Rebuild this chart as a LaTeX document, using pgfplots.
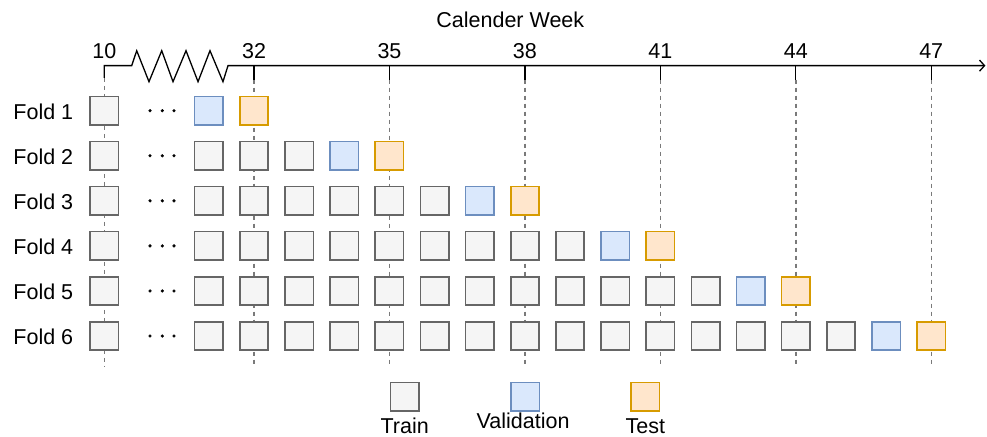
\documentclass[border=0pt]{standalone}
\usepackage{pgfplots}
\pgfplotsset{compat=1.18}
\usepackage{pgfplotstable}
\usepackage{fontspec}
\setmainfont{Liberation Sans}
\usetikzlibrary{arrows.meta}
\definecolor{trainfill}{HTML}{F5F5F5}
\definecolor{trainline}{HTML}{666666}
\definecolor{valfill}{HTML}{DAE8FC}
\definecolor{valline}{HTML}{6C8EBF}
\definecolor{testfill}{HTML}{FFE6CC}
\definecolor{testline}{HTML}{D79B00}
\definecolor{dashgray}{HTML}{7A7A7A}
\newcommand{\lbl}{\fontsize{21.5bp}{25bp}\selectfont}

\pgfplotstableread{
x y
28.684 1
28.684 2
31 2
32 2
33 2
28.684 3
31 3
32 3
33 3
34 3
35 3
36 3
28.684 4
31 4
32 4
33 4
34 4
35 4
36 4
37 4
38 4
39 4
28.684 5
31 5
32 5
33 5
34 5
35 5
36 5
37 5
38 5
39 5
40 5
41 5
42 5
28.684 6
31 6
32 6
33 6
34 6
35 6
36 6
37 6
38 6
39 6
40 6
41 6
42 6
43 6
44 6
45 6
35.338 7.347
}\train

\pgfplotstableread{
x y
31 1
34 2
37 3
40 4
43 5
46 6
38.01 7.347
}\val

\pgfplotstableread{
x y
32 1
35 2
38 3
41 4
44 5
47 6
40.667 7.347
}\test

\pgfplotstableread{
x y
29.697 1
29.969 1
30.228 1
29.697 2
29.969 2
30.228 2
29.697 3
29.969 3
30.228 3
29.697 4
29.969 4
30.228 4
29.697 5
29.969 5
30.228 5
29.697 6
29.969 6
30.228 6
}\dots

\begin{document}
\begin{tikzpicture}
\begin{axis}[
  set layers,
  scale only axis, width=987bp, height=436bp,
  xmin=26.374, xmax=48.235, ymin=-1.457, ymax=8.219,
  y dir=reverse, hide axis, clip=false,
  guide/.style={dashgray, line width=1.4bp, dash pattern=on 4bp off 4bp, on layer=axis background}]
% dashed guide lines
\addplot[guide] coordinates {(28.684,0.274) (28.684,6.688)};
\addplot[guide] coordinates {(32,0.31) (32,6.688)};
\addplot[guide] coordinates {(35,0.31) (35,6.688)};
\addplot[guide] coordinates {(38,0.31) (38,6.688)};
\addplot[guide] coordinates {(41,0.31) (41,6.688)};
\addplot[guide] coordinates {(44,0.31) (44,6.688)};
\addplot[guide] coordinates {(47,0.31) (47,6.688)};
% ticks
\addplot[black, line width=1.3bp] coordinates {(32,0) (32,0.31)};
\addplot[black, line width=1.3bp] coordinates {(35,0) (35,0.31)};
\addplot[black, line width=1.3bp] coordinates {(38,0) (38,0.31)};
\addplot[black, line width=1.3bp] coordinates {(41,0) (41,0.31)};
\addplot[black, line width=1.3bp] coordinates {(44,0) (44,0.31)};
\addplot[black, line width=1.3bp] coordinates {(47,0) (47,0.31)};
% axis line with break
\addplot[black, line width=1.3bp, line join=miter, -{Straight Barb[length=5bp,width=11bp]}] coordinates {
 (28.684,0.274) (28.684,0) (29.291,0) (29.402,-0.332) (29.674,0.356) (29.956,-0.332)
 (30.206,0.356) (30.494,-0.332) (30.760,0.356) (31.025,-0.332) (31.313,0.356)
 (31.424,0) (48.2,0)};
% squares
\addplot[only marks, mark=square*, mark size=14.2bp, mark options={fill=trainfill, draw=trainline, line width=1.6bp}] table {\train};
\addplot[only marks, mark=square*, mark size=14.2bp, mark options={fill=valfill, draw=valline, line width=1.6bp}] table {\val};
\addplot[only marks, mark=square*, mark size=14.2bp, mark options={fill=testfill, draw=testline, line width=1.6bp}] table {\test};
\addplot[only marks, mark=*, mark size=1.4bp, black] table {\dots};
% texts
\node[anchor=base, font=\lbl] at (axis cs:37.677,-0.842) {Calender Week};
\node[anchor=base, font=\lbl] at (axis cs:28.684,-0.163) {10};
\node[anchor=base, font=\lbl] at (axis cs:32,-0.163) {32};
\node[anchor=base, font=\lbl] at (axis cs:35,-0.163) {35};
\node[anchor=base, font=\lbl] at (axis cs:38,-0.163) {38};
\node[anchor=base, font=\lbl] at (axis cs:41,-0.163) {41};
\node[anchor=base, font=\lbl] at (axis cs:44,-0.163) {44};
\node[anchor=base, font=\lbl] at (axis cs:47,-0.163) {47};
\node[anchor=base east, inner sep=0pt, font=\lbl] at (axis cs:28.0,1.184) {Fold 1};
\node[anchor=base east, inner sep=0pt, font=\lbl] at (axis cs:28.0,2.184) {Fold 2};
\node[anchor=base east, inner sep=0pt, font=\lbl] at (axis cs:28.0,3.184) {Fold 3};
\node[anchor=base east, inner sep=0pt, font=\lbl] at (axis cs:28.0,4.184) {Fold 4};
\node[anchor=base east, inner sep=0pt, font=\lbl] at (axis cs:28.0,5.184) {Fold 5};
\node[anchor=base east, inner sep=0pt, font=\lbl] at (axis cs:28.0,6.184) {Fold 6};
\node[anchor=base, font=\lbl] at (axis cs:35.338,8.16) {Train};
\node[anchor=base, font=\lbl] at (axis cs:37.96,8.06) {Validation};
\node[anchor=base, font=\lbl] at (axis cs:40.667,8.16) {Test};
\end{axis}
\pgfresetboundingbox
\path (current axis.south west) rectangle (current axis.north east);
\end{tikzpicture}
\end{document}
